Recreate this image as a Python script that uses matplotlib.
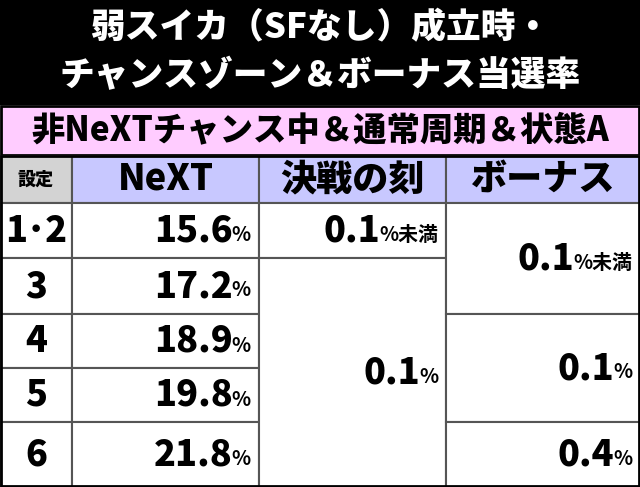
import matplotlib.pyplot as plt
from matplotlib.patches import Rectangle

plt.rcParams['font.family'] = 'Noto Sans CJK JP'

title_lines = ['弱スイカ（SFなし）成立時・', 'チャンスゾーン＆ボーナス当選率']
subtitle = '非NeXTチャンス中＆通常周期＆状態A'
headers = ['設定', 'NeXT', '決戦の刻', 'ボーナス']
settings = ['1･2', '3', '4', '5', '6']
next_rates = ['15.6', '17.2', '18.9', '19.8', '21.8']
# merged cells: (first row, last row, value, suffix)
kessen = [(0, 0, '0.1', '%未満'), (1, 4, '0.1', '%')]
bonus = [(0, 1, '0.1', '%未満'), (2, 3, '0.1', '%'), (4, 4, '0.4', '%')]

W, H = 640, 487
fig = plt.figure(figsize=(6.4, 4.87), dpi=100)
ax = fig.add_axes([0, 0, 1, 1])
ax.set_xlim(0, W)
ax.set_ylim(H, 0)
ax.axis('off')

col_x = [0, 72, 259, 446, 640]
row_y = [203, 258, 314, 368, 422, 487]
line = '#555555'
BW = 'heavy'

def cell(x0, x1, y0, y1, fc):
    ax.add_patch(Rectangle((x0, y0), x1 - x0, y1 - y0, facecolor=fc, edgecolor=line, lw=1.5))

def val(x1, y0, y1, num, suf, size=26):
    t = ax.text(x1 - 8, (y0 + y1) / 2 + 4, suf, ha='right', va='center',
                fontsize=size * 0.55, fontweight='bold')
    fig.canvas.draw()
    bb = t.get_window_extent()
    xs = ax.transData.inverted().transform((bb.x0, 0))[0]
    ax.text(xs + 1, (y0 + y1) / 2, num, ha='right', va='center', fontsize=size, fontweight=BW)

# title
ax.add_patch(Rectangle((0, 0), W, 105, facecolor='black', edgecolor='none'))
ax.text(W / 2, 28, title_lines[0], ha='center', va='center', color='white', fontsize=25, fontweight=BW)
ax.text(W / 2, 76, title_lines[1], ha='center', va='center', color='white', fontsize=25, fontweight=BW)

# subtitle
ax.add_patch(Rectangle((1, 106), W - 2, 49, facecolor='#ffccff', edgecolor='black', lw=2))
ax.text(W / 2, 130, subtitle, ha='center', va='center', fontsize=24, fontweight=BW)

# header
for i, h in enumerate(headers):
    fc = '#d3d3d3' if i == 0 else '#c8c8ff'
    cell(col_x[i], col_x[i + 1], 156, 203, fc)
    ax.text((col_x[i] + col_x[i + 1]) / 2, 179, h, ha='center', va='center',
            fontsize=13 if i == 0 else 26, fontweight=BW)

# body
for r, s in enumerate(settings):
    y0, y1 = row_y[r], row_y[r + 1]
    cell(col_x[0], col_x[1], y0, y1, 'white')
    ax.text((col_x[0] + col_x[1]) / 2, (y0 + y1) / 2, s, ha='center', va='center', fontsize=26, fontweight=BW)
    cell(col_x[1], col_x[2], y0, y1, 'white')
    val(col_x[2], y0, y1, next_rates[r], '%')

for c, merged in ((2, kessen), (3, bonus)):
    for r0, r1, num, suf in merged:
        y0, y1 = row_y[r0], row_y[r1 + 1]
        cell(col_x[c], col_x[c + 1], y0, y1, 'white')
        val(col_x[c + 1], y0, y1, num, suf)

ax.add_patch(Rectangle((1, 156), W - 2, H - 157, facecolor='none', edgecolor='black', lw=2))

fig.savefig('out.png', dpi=100)
